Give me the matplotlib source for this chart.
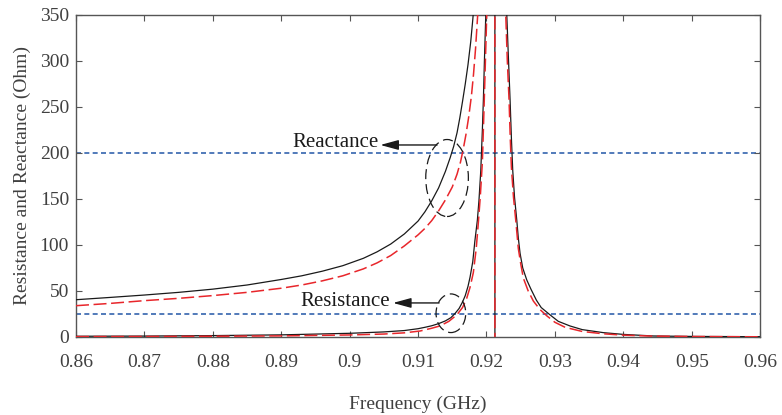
import matplotlib
matplotlib.use("Agg")
import matplotlib.pyplot as plt
from matplotlib.patches import Ellipse

plt.rcParams['font.family'] = ['Liberation Serif', 'DejaVu Serif']

# Reactance (black solid / red dashed)
f_x_black = [0.86, 0.865, 0.87, 0.875, 0.88, 0.885, 0.89, 0.893, 0.896, 0.899, 0.902,
             0.904, 0.906, 0.908, 0.910, 0.911, 0.912, 0.913, 0.914, 0.9147, 0.9152,
             0.9157, 0.9161, 0.9165, 0.9169, 0.9173, 0.9177, 0.918, 0.9183, 0.9186,
             0.919, 0.9195, 0.920, 0.9206, 0.9212, 0.92127, 0.9225, 0.925, 0.93,
             0.94, 0.96]
x_black = [40.5, 43, 45.6, 48.5, 52, 56.5, 62.5, 66.5, 71.5, 77.5, 85.5,
           92.5, 101, 112, 126, 136, 148, 162, 180, 195, 207,
           222, 238, 256, 275, 296, 321, 345, 372, 405,
           460, 560, 750, 1200, 2500, -2500, -900, -300, -120,
           -50, -20]

f_x_red = [0.86, 0.865, 0.87, 0.875, 0.88, 0.885, 0.89, 0.893, 0.896, 0.899, 0.902,
           0.904, 0.906, 0.908, 0.910, 0.911, 0.912, 0.913, 0.914, 0.915, 0.9157,
           0.9162, 0.9166, 0.917, 0.9174, 0.9178, 0.9181, 0.9184, 0.9187, 0.919,
           0.9195, 0.920, 0.9206, 0.9212, 0.92127, 0.9225, 0.925, 0.93, 0.94, 0.96]
x_red = [34, 36.5, 39.5, 42, 45, 48.5, 53, 56.5, 61, 66.5, 74,
         80.5, 88.5, 99, 111, 118, 126.5, 137, 149, 163, 177,
         190, 204, 220, 239, 262, 285, 313, 348, 392,
         490, 660, 1100, 2500, -2500, -900, -300, -120, -50, -20]

# Resistance (black solid / red dashed)
f_r_black = [0.86, 0.87, 0.88, 0.89, 0.90, 0.905, 0.908, 0.910, 0.911, 0.912, 0.913,
             0.914, 0.9148, 0.9154, 0.916, 0.9165, 0.9169, 0.9173, 0.9176, 0.918, 0.9183,
             0.91867, 0.9189, 0.91917, 0.9194, 0.91955, 0.9197, 0.9199, 0.9202, 0.9206,
             0.921, 0.9215, 0.922, 0.9225, 0.92297, 0.9232, 0.92345, 0.92365, 0.92384,
             0.9241, 0.92443, 0.92465, 0.92491, 0.9253, 0.92589, 0.9265, 0.9273, 0.928,
             0.9293, 0.9305, 0.9322, 0.934, 0.9371, 0.940, 0.9444, 0.95, 0.96]
r_black = [0.8, 1.0, 1.5, 2.3, 4.0, 5.5, 7, 9, 10.5, 12.2, 14.5,
           17.5, 21, 25.5, 31, 38, 45, 55, 65, 82, 104,
           127, 148, 181, 225, 258, 300, 350, 450, 700,
           1300, 2000, 1300, 600, 350, 305, 258, 215, 181,
           152, 127, 108, 91, 75, 62, 52, 40, 32,
           24, 17, 12, 8, 4.7, 2.8, 1.1, 0.6, 0.3]

f_r_red = [0.86, 0.87, 0.88, 0.89, 0.90, 0.905, 0.908, 0.9103, 0.912, 0.9132, 0.9145,
           0.91566, 0.9165, 0.91711, 0.9176, 0.91808, 0.9185, 0.91882, 0.9191, 0.9194,
           0.91965, 0.92004, 0.9204, 0.9208, 0.9212, 0.9215, 0.922, 0.9225, 0.92282,
           0.92305, 0.9233, 0.92347, 0.92364, 0.92395, 0.92428, 0.92466, 0.925, 0.92539,
           0.9261, 0.92686, 0.9278, 0.92882, 0.930, 0.9315, 0.934, 0.937, 0.940, 0.944,
           0.95, 0.96]
r_red = [0.4, 0.5, 0.8, 1.2, 2.2, 3.2, 4.5, 6.5, 9.5, 12, 17,
         24, 32, 42, 54, 70, 96, 125, 153, 190,
         250, 350, 460, 800, 1600, 2000, 1200, 550, 350,
         300, 258, 218, 185, 152, 127, 96, 80, 64,
         50, 39, 30, 23, 16, 10.5, 6, 3.5, 2, 1,
         0.5, 0.2]

ref_levels = [200, 25]
xticks = [0.86, 0.87, 0.88, 0.89, 0.90, 0.91, 0.92, 0.93, 0.94, 0.95, 0.96]
xtick_labels = ['0.86', '0.87', '0.88', '0.89', '0.9', '0.91', '0.92', '0.93', '0.94', '0.95', '0.96']
yticks = [0, 50, 100, 150, 200, 250, 300, 350]

black = '#1a1a1a'
red = '#e8262b'
blue = '#3464ae'
grey = '#404040'

fig = plt.figure(figsize=(7.82, 4.15), dpi=100)
ax = fig.add_axes([0.0972, 0.188, 0.8748, 0.7759])

for lev in ref_levels:
    ax.plot([0.86, 0.96], [lev, lev], color=blue, lw=1.2, dashes=(3, 2), zorder=1)

ax.plot(f_x_black, x_black, color=black, lw=0.9, zorder=3)
ax.plot(f_r_black, r_black, color=black, lw=0.9, zorder=3)
ax.plot(f_x_red, x_red, color=red, lw=1.1, dashes=(8.5, 3), zorder=4)
ax.plot(f_r_red, r_red, color=red, lw=1.1, dashes=(8.5, 3), zorder=4)

# ellipses round the curves
ax.add_patch(Ellipse((0.91424, 172.8), 0.00623, 83.7, fill=False, ec=black,
                     lw=0.9, ls=(0, (8, 4)), zorder=5))
ax.add_patch(Ellipse((0.91480, 25.8), 0.00434, 42, fill=False, ec=black,
                     lw=0.9, ls=(0, (8, 4)), zorder=5))

# annotations
arrow = dict(arrowstyle='-|>,head_length=1.1,head_width=0.3', color=black, lw=1.0,
             shrinkA=0, shrinkB=0)
ax.annotate('', xy=(0.90449, 208.7), xytext=(0.91278, 208.7), arrowprops=arrow, zorder=6)
ax.text(0.9043, 211, 'Reactance', ha='right', va='center', fontsize=15, color=black)
ax.annotate('', xy=(0.90634, 37), xytext=(0.91307, 37), arrowprops=arrow, zorder=6)
ax.text(0.9059, 38.5, 'Resistance', ha='right', va='center', fontsize=15, color=black)

ax.set_xlim(0.86, 0.96)
ax.set_ylim(0, 350)
ax.set_xticks(xticks)
ax.set_xticklabels(xtick_labels)
ax.set_yticks(yticks)
ax.tick_params(direction='in', length=4, width=0.8, top=True, right=True,
               labelsize=14, colors='#555555', labelcolor=grey)
ax.tick_params(axis='x', pad=12)
ax.tick_params(axis='y', pad=5)
for sp in ax.spines.values():
    sp.set_color('#555555')
    sp.set_linewidth(1.0)

ax.set_xlabel('Frequency (GHz)', fontsize=14, color=grey, labelpad=18)
ax.set_ylabel('Resistance and Reactance (Ohm)', fontsize=14, color=grey, labelpad=6)

fig.savefig('out.png', dpi=100)
